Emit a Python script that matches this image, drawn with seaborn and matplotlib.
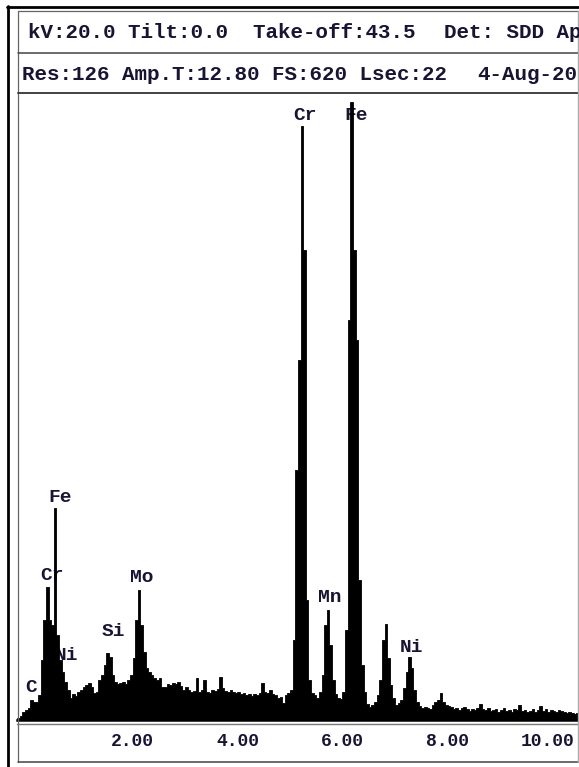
import numpy as np
import pandas as pd
import matplotlib
matplotlib.use("Agg")
import matplotlib.pyplot as plt
from matplotlib.lines import Line2D
import seaborn as sns

# EDS spectrum, 0.05 keV channels starting at 0 keV (counts in display units)
BIN_WIDTH = 0.05
counts = [
    2, 4, 8, 10, 12, 20, 18, 18, 25, 60,
    100, 133, 100, 95, 212, 85, 60, 48, 38, 30,
    22, 26, 24, 28, 30, 33, 35, 37, 33, 27,
    28, 40, 45, 55, 67, 63, 45, 38, 36, 37,
    38, 36, 40, 45, 62, 100, 130, 95, 68, 52,
    48, 45, 42, 40, 42, 33, 33, 36, 35, 37,
    36, 38, 34, 30, 33, 30, 28, 29, 42, 28,
    30, 40, 28, 27, 30, 29, 31, 43, 32, 29,
    28, 30, 28, 27, 28, 26, 27, 25, 26, 24,
    26, 25, 27, 37, 28, 27, 30, 26, 25, 22,
    23, 17, 25, 27, 30, 80, 250, 360, 594, 470,
    120, 40, 27, 25, 22, 28, 45, 95, 110, 75,
    40, 26, 22, 21, 28, 90, 400, 618, 470, 380,
    140, 55, 28, 16, 13, 15, 18, 25, 40, 80,
    96, 62, 35, 22, 15, 17, 20, 32, 48, 63,
    52, 30, 18, 14, 12, 13, 12, 11, 15, 18,
    20, 27, 18, 15, 14, 13, 11, 12, 10, 12,
    13, 11, 9, 11, 10, 12, 16, 11, 10, 12,
    9, 10, 11, 8, 10, 12, 9, 10, 8, 11,
    10, 15, 9, 10, 8, 9, 11, 8, 10, 14,
    9, 11, 8, 10, 9, 8, 10, 9, 8, 7,
    8, 7, 6, 7,
]

peak_labels = ["C", "Cr", "Fe", "Ni", "Si", "Mo", "Cr", "Fe", "Mn", "Ni"]
peak_kev = [0.27, 0.67, 0.82, 0.95, 1.83, 2.38, 5.49, 6.46, 5.96, 7.52]
peak_height = [33, 145, 223, 65, 88, 142, 604, 604, 122, 73]

tick_kev = [2, 4, 6, 8, 10]
tick_text = ["2.00", "4.00", "6.00", "8.00", "10.00"]

# header rows: (left text, right text)
header_1 = ("kV:20.0 Tilt:0.0  Take-off:43.5", "Det: SDD Ap")
header_2 = ("Res:126 Amp.T:12.80 FS:620 Lsec:22", "4-Aug-20")

W, H = 579, 767
PX_PER_KEV = 52.5
X0, BASE_Y, TOP_Y = 17, 720, 93

sns.set_style("white")
plt.rcParams["font.family"] = ["Liberation Mono", "DejaVu Sans Mono"]
TXT = "#1a1433"

fig = plt.figure(figsize=(W / 100, H / 100), dpi=100)


def fx(x):
    return x / W


def fy(y):
    return 1 - y / H


def hline(y, x1, x2, lw=1.0, c="black"):
    fig.add_artist(Line2D([fx(x1), fx(x2)], [fy(y), fy(y)], lw=lw, color=c))


def vline(x, y1, y2, lw=1.0, c="black"):
    fig.add_artist(Line2D([fx(x), fx(x)], [fy(y1), fy(y2)], lw=lw, color=c))


ax = fig.add_axes([fx(X0), fy(BASE_Y), fx(W - X0), (BASE_Y - TOP_Y) / H])

spec = pd.DataFrame({
    "energy": (np.arange(len(counts)) + 0.5) * BIN_WIDTH,
    "counts": counts,
})
sns.histplot(data=spec, x="energy", weights="counts", binwidth=BIN_WIDTH,
             binrange=(0, len(counts) * BIN_WIDTH),
             element="step", fill=True, color="black", alpha=1,
             edgecolor="black", linewidth=0.6, ax=ax, zorder=3)

ax.set_xlim(0, (W - X0) / PX_PER_KEV)
ax.set_ylim(0, BASE_Y - TOP_Y)
ax.set_xlabel("")
ax.set_ylabel("")
ax.set_yticks([])
ax.set_xticks(tick_kev)
ax.set_xticklabels([])
ax.tick_params(axis="x", direction="out", length=6, width=1.5, color="black")
for s in ["top", "right", "left"]:
    ax.spines[s].set_visible(False)
ax.spines["bottom"].set_linewidth(1.8)
ax.spines["bottom"].set_color("black")
ax.patch.set_alpha(0)

# tick labels: decimal point sits at the tick
cw = 10.8 / PX_PER_KEV
for k, t in zip(tick_kev, tick_text):
    n_int = len(t.split(".")[0])
    ax.text(k - n_int * cw, -22, t, ha="left", va="center", fontsize=13,
            fontweight="bold", color=TXT, clip_on=False)

for lab, k, h in zip(peak_labels, peak_kev, peak_height):
    ax.text(k, h, lab, ha="center", va="center", fontsize=14,
            fontweight="bold", color=TXT, zorder=2)

# frames
hline(6.5, 7, W, lw=2.0)
vline(8, 5.5, H, lw=2.0)
hline(11, X0 + 1, W, lw=0.9, c="#666666")
vline(X0 + 1, 11, 762, lw=0.9, c="#666666")
hline(53, X0 + 1, W, lw=1.1, c="#444444")
hline(TOP_Y, X0 + 1, W, lw=1.3, c="#333333")
hline(723.5, X0, W, lw=1.0, c="#777777")
hline(762, X0 + 1, W, lw=1.1, c="#444444")
vline(W - 1, 11, 762, lw=1.0, c="#aaaaaa")

fig.text(fx(28), fy(33), header_1[0], ha="left", va="center", fontsize=15,
         fontweight="bold", color=TXT)
fig.text(fx(444), fy(33), header_1[1], ha="left", va="center", fontsize=15,
         fontweight="bold", color=TXT)
fig.text(fx(22), fy(75), header_2[0], ha="left", va="center", fontsize=15,
         fontweight="bold", color=TXT)
fig.text(fx(477), fy(75), header_2[1], ha="left", va="center", fontsize=15,
         fontweight="bold", color=TXT)

fig.savefig("out.png", dpi=100)
